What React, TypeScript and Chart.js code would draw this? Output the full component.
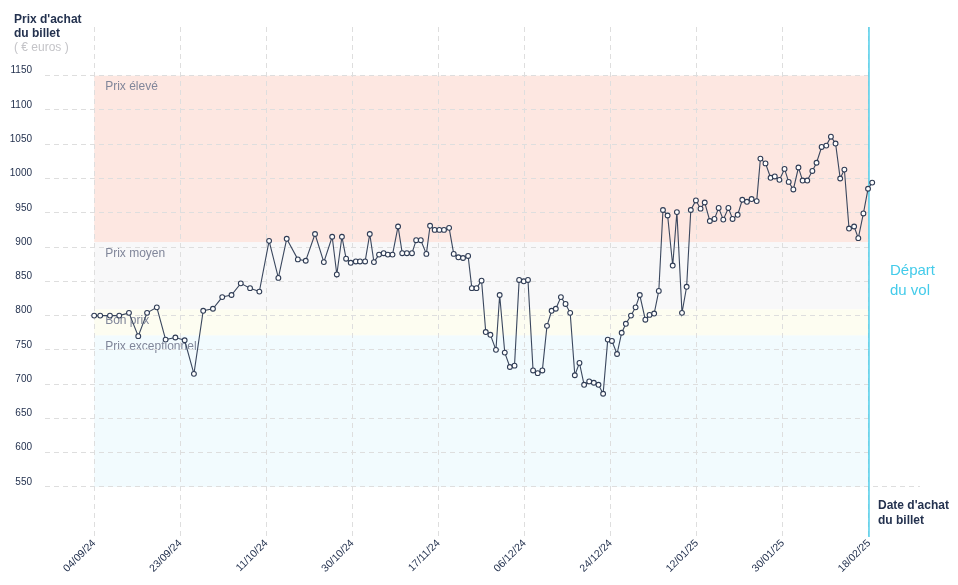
import React, { useEffect, useRef } from "react";
import { Chart, registerables } from "chart.js";

Chart.register(...registerables);

// ---- Data ----
const tickLabels = [
  "04/09/24", "23/09/24", "11/10/24", "30/10/24", "17/11/24",
  "06/12/24", "24/12/24", "12/01/25", "30/01/25", "18/02/25",
];

// day offsets from 04/09/24
const days = [
  0, 1.3, 3.4, 5.4, 7.5, 9.5, 11.4, 13.5, 15.4, 17.5,
  19.5, 21.5, 23.5, 25.6, 27.6, 29.6, 31.6, 33.6, 35.6, 37.7,
  39.7, 41.5, 43.9, 45.6, 47.6, 49.5, 51.3, 52.3, 53.4, 54.3,
  55.3, 56.4, 57.3, 58.4, 59.4, 60.3, 61.4, 62.4, 63.3, 64.3,
  65.5, 66.4, 67.4, 68.5, 69.4, 70.4, 71.6, 72.4, 73.4, 74.4,
  75.4, 76.5, 77.5, 78.5, 79.5, 80.6, 81.4, 82.4, 83.5, 84.4,
  85.4, 86.6, 87.4, 88.5, 89.6, 90.6, 91.6, 92.6, 93.5, 94.6,
  95.6, 96.6, 97.6, 98.6, 99.5, 100.6, 101.6, 102.6, 103.6, 104.6,
  105.6, 106.7, 107.7, 108.7, 109.7, 110.7, 111.6, 112.7, 113.7, 114.6,
  115.7, 116.7, 117.6, 118.8, 119.7, 120.7, 121.7, 122.6, 123.6, 124.7,
  125.6, 126.7, 127.7, 128.6, 129.7, 130.7, 131.6, 132.7, 133.7, 134.6,
  135.6, 136.7, 137.6, 138.7, 139.7, 140.7, 141.7, 142.8, 143.6, 144.7,
  145.8, 146.7, 147.7, 148.8, 149.7, 150.7, 151.8, 152.7, 153.7, 154.8,
  155.7, 156.8, 157.8, 158.8, 159.8, 160.8, 161.7, 162.7, 163.8, 164.7,
  165.8, 166.8, 167.7,
];

const prices = [
  800, 800, 800, 800, 804, 770, 804, 812, 765, 768,
  764, 715, 807, 810, 827, 830, 847, 840, 835, 909,
  855, 912, 882, 880, 919, 878, 915, 860, 915, 883,
  877, 879, 879, 879, 919, 878, 889, 891, 889, 889,
  930, 891, 891, 891, 910, 910, 890, 931, 925, 925,
  925, 928, 890, 885, 884, 887, 840, 840, 851, 776,
  772, 750, 830, 746, 725, 727, 852, 850, 852, 720,
  716, 720, 785, 807, 810, 827, 817, 804, 713, 731,
  699, 704, 702, 699, 686, 765, 763, 744, 775, 788,
  800, 812, 830, 794, 801, 803, 836, 954, 946, 873,
  951, 804, 842, 954, 968, 956, 965, 938, 941, 957,
  940, 957, 941, 947, 969, 966, 970, 967, 1029, 1022,
  1001, 1003, 998, 1014, 995, 984, 1016, 997, 997, 1011,
  1023, 1046, 1048, 1061, 1051, 1000, 1013, 927, 930, 913,
  949, 985, 994,
];

const yTicks = [550, 600, 650, 700, 750, 800, 850, 900, 950, 1000, 1050, 1100, 1150];

const bandNames = ["Prix élevé", "Prix moyen", "Bon prix", "Prix exceptionnel"];
const bandTops = [1150, 907, 809, 771];
const bandBottoms = [907, 809, 771, 550];

const departureDay = 167;

// ---- Styles ----
const FONT = "'Liberation Sans', Arial, Helvetica, sans-serif";
const bandColors = ["rgb(253,231,225)", "rgb(248,248,249)", "rgb(253,253,241)", "rgb(242,251,254)"];
const navy = "#24324f";
const cyan = "#43cbea";

const decorPlugin = {
  id: "decor",
  beforeDraw(chart: any) {
    const { ctx, scales } = chart;
    const x = scales.x;
    const y = scales.y;
    const left = x.getPixelForValue(0);
    const right = x.getPixelForValue(departureDay);
    ctx.save();
    bandNames.forEach((name, i) => {
      const top = y.getPixelForValue(bandTops[i]);
      const bottom = y.getPixelForValue(bandBottoms[i]);
      ctx.fillStyle = bandColors[i];
      ctx.fillRect(left, top, right - left, bottom - top);
    });
    ctx.font = `12px ${FONT}`;
    ctx.fillStyle = "#80869a";
    ctx.textAlign = "left";
    ctx.textBaseline = "alphabetic";
    bandNames.forEach((name, i) => {
      const top = y.getPixelForValue(bandTops[i]);
      ctx.fillText(name, left + 11, top + 14.5);
    });

    // axis titles
    ctx.fillStyle = navy;
    ctx.font = `bold 12px ${FONT}`;
    ctx.fillText("Prix d'achat", 14, 22.5);
    ctx.fillText("du billet", 14, 37);
    ctx.font = `12px ${FONT}`;
    ctx.fillStyle = "#c4c4c8";
    ctx.fillText("( € euros )", 14, 51);

    ctx.fillStyle = navy;
    ctx.font = `bold 12px ${FONT}`;
    ctx.fillText("Date d'achat", 878, 509);
    ctx.fillText("du billet", 878, 524);
    ctx.restore();
  },
  beforeDatasetsDraw(chart: any) {
    const { ctx, scales, chartArea } = chart;
    const x = scales.x;
    const y = scales.y;
    const dx = x.getPixelForValue(departureDay);
    ctx.save();
    ctx.fillStyle = "#ffffff";
    ctx.fillRect(dx, chartArea.top, chart.width - dx, y.getPixelForValue(572) - chartArea.top);
    ctx.strokeStyle = cyan;
    ctx.lineWidth = 1.4;
    ctx.beginPath();
    ctx.moveTo(dx, chartArea.top);
    ctx.lineTo(dx, chartArea.bottom);
    ctx.stroke();
    ctx.fillStyle = cyan;
    ctx.font = `15px ${FONT}`;
    ctx.textAlign = "left";
    ctx.fillText("Départ", dx + 21, 275);
    ctx.fillText("du vol", dx + 21, 295);
    ctx.restore();
  },
};

export default function App() {
  const ref = useRef<HTMLCanvasElement | null>(null);

  useEffect(() => {
    if (!ref.current) return;
    const chart = new Chart(ref.current, {
      type: "line",
      data: {
        datasets: [
          {
            data: days.map((d, i) => ({ x: d, y: prices[i] })),
            borderColor: "#3a475e",
            borderWidth: 1.1,
            pointRadius: 2.4,
            pointBorderWidth: 1.1,
            pointBackgroundColor: "#ffffff",
            pointBorderColor: "#2f3c55",
            tension: 0,
            fill: false,
          },
        ],
      },
      options: {
        responsive: false,
        animation: false,
        devicePixelRatio: 1,
        layout: { padding: { top: 27, right: 38, left: 0, bottom: 0 } },
        plugins: { legend: { display: false }, tooltip: { enabled: false } },
        scales: {
          x: {
            type: "linear",
            min: -10.6,
            max: 178,
            afterBuildTicks: (s: any) => {
              s.ticks = tickLabels.map((_, i) => ({
                value: (i * departureDay) / (tickLabels.length - 1),
              }));
            },
            afterFit: (s: any) => {
              s.height = 48;
            },
            ticks: {
              autoSkip: false,
              maxRotation: 45,
              minRotation: 45,
              padding: 0,
              color: navy,
              font: { family: FONT, size: 10.5 },
              callback: (_v: any, i: number) => tickLabels[i],
            },
            grid: { color: "#dedede", drawTicks: false, lineWidth: 1 },
            border: { display: false, dash: [5, 4] },
          },
          y: {
            min: 477,
            max: 1221,
            afterBuildTicks: (s: any) => {
              s.ticks = yTicks.map((v) => ({ value: v }));
            },
            afterFit: (s: any) => {
              s.width = 45;
            },
            ticks: {
              padding: 13,
              labelOffset: -5,
              color: navy,
              font: { family: FONT, size: 10 },
              callback: (v: any) => String(v),
            },
            grid: { color: "#dedede", drawTicks: false, lineWidth: 1 },
            border: { display: false, dash: [5, 4] },
          },
        },
      },
      plugins: [decorPlugin],
    } as any);
    return () => chart.destroy();
  }, []);

  return (
    <div style={{ position: "fixed", left: 0, top: 0, width: 958, height: 585, background: "#fff" }}>
      <canvas ref={ref} width={958} height={585} style={{ width: 958, height: 585, display: "block" }} />
    </div>
  );
}
